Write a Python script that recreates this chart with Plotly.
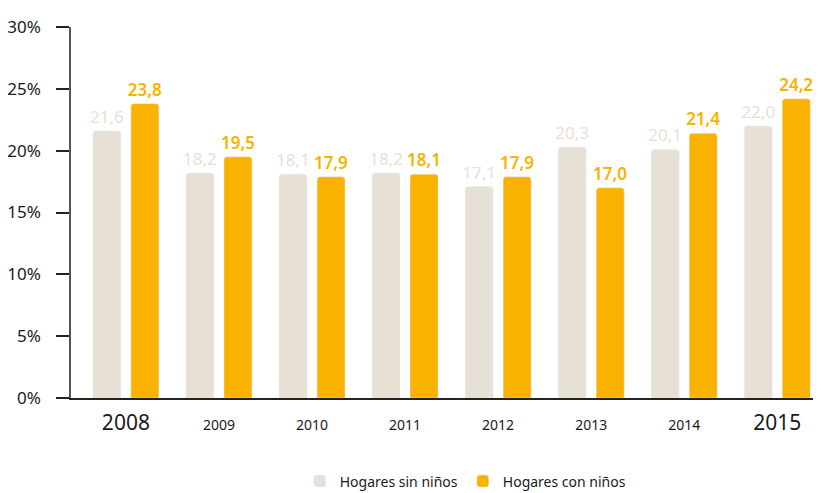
import plotly.graph_objects as go

years = ["2008", "2009", "2010", "2011", "2012", "2013", "2014", "2015"]
sin_ninos = [21.6, 18.2, 18.1, 18.2, 17.1, 20.3, 20.1, 22.0]
con_ninos = [23.8, 19.5, 17.9, 18.1, 17.9, 17.0, 21.4, 24.2]
y_ticks = [0, 5, 10, 15, 20, 25, 30]
big_years = {"2008", "2015"}

BEIGE = "#e7e1d5"
ORANGE = "#f9b200"
FONT = "Noto Sans"


def fmt(v):
    return f"{v:.1f}".replace(".", ",")


x_idx = list(range(len(years)))
tick_text = [
    f'<span style="font-size:21px">{y}</span>' if y in big_years else y
    for y in years
]

fig = go.Figure()
fig.add_trace(go.Bar(
    x=x_idx, y=sin_ninos, name="Hogares sin niños",
    marker=dict(color=BEIGE),
    text=[fmt(v) for v in sin_ninos], textposition="outside",
    textfont=dict(color=BEIGE, size=17, family=FONT),
    constraintext="none", cliponaxis=False,
))
fig.add_trace(go.Bar(
    x=x_idx, y=con_ninos, name="Hogares con niños",
    marker=dict(color=ORANGE),
    text=[fmt(v) for v in con_ninos], textposition="outside",
    textfont=dict(color=ORANGE, size=17, family=FONT, weight=600),
    constraintext="none", cliponaxis=False,
))

# the page body adds an 8px offset, so the figure is sized to fit the window
fig.update_layout(
    width=813, height=485,
    margin=dict(l=63, r=0, t=19, b=95, autoexpand=False),
    paper_bgcolor="white", plot_bgcolor="white",
    barmode="group", bargap=0.183, bargroupgap=0.263, barcornerradius=3,
    font=dict(family=FONT, color="#1a1a1a"),
    showlegend=True,
    legend=dict(orientation="h", x=0.305, xanchor="left", y=-0.225, yanchor="middle",
                font=dict(size=14, color="#1a1a1a"), itemwidth=30,
                traceorder="normal"),
    uniformtext=dict(mode=False),
)
fig.update_xaxes(
    range=[-0.59, 7.47], tickvals=x_idx, ticktext=tick_text,
    showline=True, linecolor="#222", linewidth=1.5,
    ticks="", showgrid=False, tickfont=dict(size=14, color="#1a1a1a"),
    ticklabelstandoff=13, automargin=False,
)
fig.update_yaxes(
    range=[0, 30], tickvals=y_ticks, ticktext=[f"{t}%" for t in y_ticks],
    showline=True, linecolor="#555", linewidth=1.5,
    ticks="outside", ticklen=13, tickcolor="#222", tickwidth=1.5,
    showgrid=False, zeroline=False,
    tickfont=dict(size=17, color="#1a1a1a"), ticklabelstandoff=12,
    automargin=False,
)

fig.write_html("out.html")
